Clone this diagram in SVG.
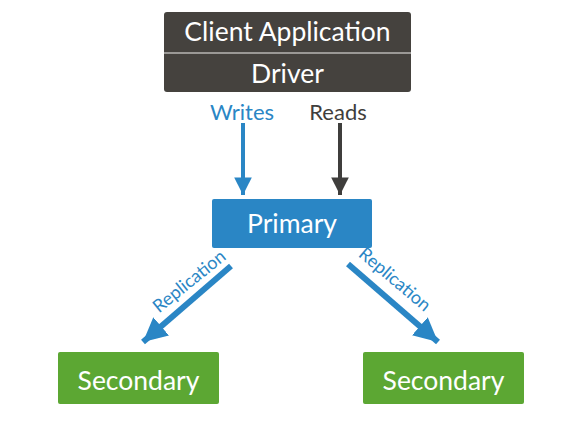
<svg xmlns="http://www.w3.org/2000/svg" width="580" height="428" viewBox="0 0 580 428">
  <defs>
    <style>
      .lbl { font-family: Lato, "Open Sans", "Liberation Sans", sans-serif; fill: #ffffff; text-anchor: middle; }
      .big { font-size: 26.5px; }
      .cap { font-family: Lato, "Open Sans", "Liberation Sans", sans-serif; font-size: 22px; text-anchor: middle; }
      .rep { font-family: Lato, "Open Sans", "Liberation Sans", sans-serif; font-size: 18px; fill: #2a86c5; text-anchor: middle; }
    </style>
    <marker id="headBlue" viewBox="0 0 10 10" refX="10" refY="5" markerWidth="4.4" markerHeight="4.4" markerUnits="strokeWidth" orient="auto">
      <path d="M0,0 L10,5 L0,10 z" fill="#2a86c5"/>
    </marker>
    <marker id="headDark" viewBox="0 0 10 10" refX="10" refY="5" markerWidth="4.4" markerHeight="4.4" markerUnits="strokeWidth" orient="auto">
      <path d="M0,0 L10,5 L0,10 z" fill="#3f3e3c"/>
    </marker>
    <marker id="headRep" viewBox="0 0 10 10" refX="10" refY="5" markerWidth="4" markerHeight="4.6" markerUnits="strokeWidth" orient="auto">
      <path d="M0,0 L10,5 L0,10 z" fill="#2a86c5"/>
    </marker>
  </defs>
  <rect width="580" height="428" fill="#ffffff"/>

  <g id="client">
    <rect x="164" y="12" width="247" height="80" rx="3" fill="#45423e"/>
    <line x1="164" y1="53" x2="411" y2="53" stroke="#b9b7b4" stroke-width="1.5"/>
    <text class="lbl big" x="287.5" y="41">Client Application</text>
    <text class="lbl big" x="287.5" y="83">Driver</text>
  </g>

  <g id="primary">
    <rect x="212" y="199" width="160" height="49" rx="2" fill="#2a86c5"/>
    <text class="lbl big" x="292" y="233">Primary</text>
  </g>

  <g id="secondary-left">
    <rect x="58" y="352" width="161" height="52" rx="2" fill="#5ca733"/>
    <text class="lbl big" x="138.5" y="390">Secondary</text>
  </g>

  <g id="secondary-right">
    <rect x="363" y="352" width="161" height="52" rx="2" fill="#5ca733"/>
    <text class="lbl big" x="443.5" y="390">Secondary</text>
  </g>

  <g id="connectors">
    <text class="cap" x="242" y="120" fill="#2a86c5">Writes</text>
    <text class="cap" x="338" y="120" fill="#3f3e3c">Reads</text>
    <line x1="243" y1="123" x2="243" y2="195" stroke="#2a86c5" stroke-width="4" marker-end="url(#headBlue)"/>
    <line x1="340" y1="123" x2="340" y2="195" stroke="#3f3e3c" stroke-width="4" marker-end="url(#headDark)"/>
    <line x1="231" y1="266" x2="143" y2="342" stroke="#2a86c5" stroke-width="6" marker-end="url(#headRep)"/>
    <line x1="348" y1="264" x2="438" y2="342" stroke="#2a86c5" stroke-width="6" marker-end="url(#headRep)"/>
    <text class="rep" transform="translate(193,286) rotate(-39)">Replication</text>
    <text class="rep" transform="translate(391,284) rotate(40)">Replication</text>
  </g>
</svg>
